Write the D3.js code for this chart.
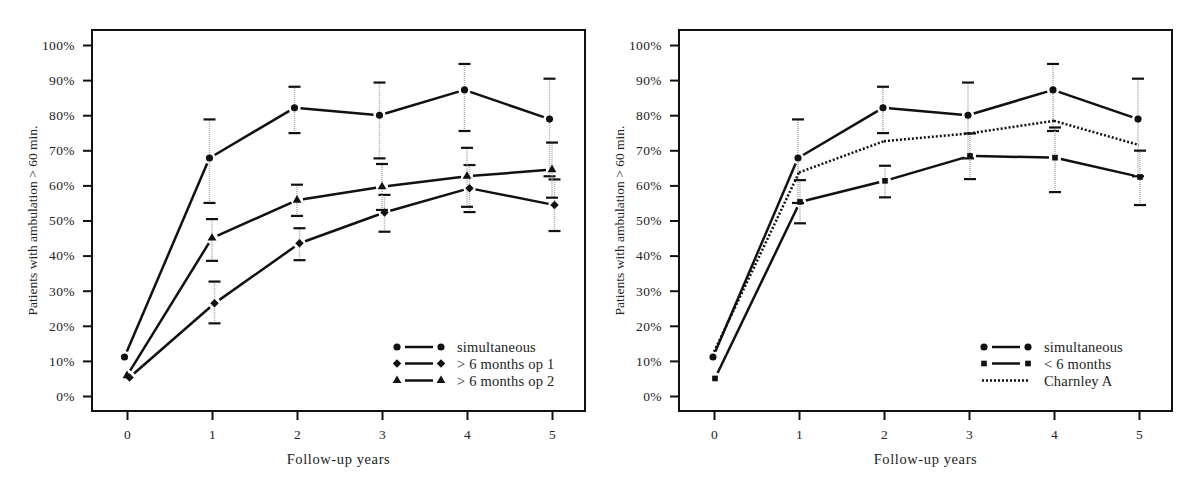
<!DOCTYPE html>
<html>
<head>
<meta charset="utf-8">
<script src="https://cdn.jsdelivr.net/npm/d3@7"></script>
<style>
    body { margin: 0; background: #fff; }
    svg { display: block; }
    text { font-family: "Liberation Serif", "Times New Roman", serif; fill: #222; }
</style>
</head>
<body>
<script>
// Data (percent of patients, by follow-up year)
var years = [0, 1, 2, 3, 4, 5];

var simultaneous   = [11.1, 67.8, 82.1, 80.0, 87.2, 78.9];
var simultaneousLo = [null, 55.0, 74.9, 67.7, 75.5, 62.6];
var simultaneousHi = [null, 78.8, 88.1, 89.3, 94.6, 90.4];

var op1   = [5.3, 26.4, 43.5, 52.3, 59.2, 54.4];
var op1Lo = [null, 20.7, 38.7, 46.8, 52.4, 47.0];
var op1Hi = [null, 32.6, 47.8, 57.3, 65.8, 61.7];

var op2   = [5.8, 45.0, 55.8, 59.6, 62.6, 64.5];
var op2Lo = [null, 38.5, 51.3, 53.0, 53.9, 56.5];
var op2Hi = [null, 50.4, 60.2, 66.1, 70.7, 72.2];

var lessThan6   = [5.0, 55.3, 61.3, 68.4, 67.9, 62.4];
var lessThan6Lo = [null, 49.2, 56.6, 61.8, 58.1, 54.4];
var lessThan6Hi = [null, 61.5, 65.6, 74.8, 76.5, 69.9];

var charnleyA = [12.6, 63.7, 72.6, 74.8, 78.4, 71.5];

var yTicks = [0, 10, 20, 30, 40, 50, 60, 70, 80, 90, 100];

var width = 1200, height = 492;

var svg = d3.select("body").append("svg")
    .attr("width", width)
    .attr("height", height);

// frame size shared by both panels
var frameW = 493, frameH = 381;

var x = d3.scaleLinear().domain([0, 5]).range([35, 460]);
var y = d3.scaleLinear().domain([0, 100]).range([366, 15]);

// small rotated square, like the reference's diamonds
var diamond = {
    draw: function(context, size) {
        var r = Math.sqrt(size / 2);
        context.moveTo(0, -r);
        context.lineTo(r, 0);
        context.lineTo(0, r);
        context.lineTo(-r, 0);
        context.closePath();
    }
};

function makeSeries(vals, lo, hi) {
    return years.map(function(yr, i) {
        return { year: yr, value: vals[i], lo: lo ? lo[i] : null, hi: hi ? hi[i] : null };
    });
}

function drawPanel(left, series, legendX) {
    var g = svg.append("g").attr("transform", "translate(" + left + ",30)");

    // axes
    var yAxis = d3.axisLeft(y).tickValues(yTicks).tickSize(9).tickPadding(8)
        .tickFormat(function(d) { return d + "%"; });
    var xAxis = d3.axisBottom(x).tickValues(years).tickSize(9).tickPadding(9)
        .tickFormat(d3.format("d"));

    var ya = g.append("g").call(yAxis);
    var xa = g.append("g").attr("transform", "translate(0," + frameH + ")").call(xAxis);
    [ya, xa].forEach(function(a) {
        a.select(".domain").remove();
        a.selectAll(".tick line").attr("stroke", "#111").attr("stroke-width", 2);
        a.selectAll(".tick text")
            .style("font-size", "13.5px")
            .style("font-family", "Liberation Serif")
            .style("letter-spacing", "0.4px")
            .attr("fill", "#333");
    });

    g.append("rect")
        .attr("width", frameW).attr("height", frameH)
        .attr("fill", "none").attr("stroke", "#111").attr("stroke-width", 2);

    g.append("text")
        .attr("x", frameW / 2).attr("y", frameH + 53)
        .attr("text-anchor", "middle")
        .style("font-size", "14.5px")
        .style("letter-spacing", "0.6px")
        .text("Follow-up years");

    g.append("text")
        .attr("transform", "translate(-60," + y(50) + ") rotate(-90)")
        .attr("text-anchor", "middle")
        .attr("dy", "0.35em")
        .style("font-size", "13.5px")
        .text("Patients with ambulation > 60 min.");

    // error bars first, so markers sit on top
    series.forEach(function(s) {
        var pts = s.data.filter(function(d) { return d.lo != null; });
        var eb = g.append("g");
        eb.selectAll("line.v").data(pts).enter().append("line")
            .attr("x1", function(d) { return x(d.year) + s.dx; })
            .attr("x2", function(d) { return x(d.year) + s.dx; })
            .attr("y1", function(d) { return y(d.lo); })
            .attr("y2", function(d) { return y(d.hi); })
            .attr("stroke", "#aaa").attr("stroke-width", 1.5)
            .attr("stroke-dasharray", "1,1");
        ["lo", "hi"].forEach(function(k) {
            eb.selectAll("line." + k).data(pts).enter().append("line")
                .attr("x1", function(d) { return x(d.year) + s.dx - 6; })
                .attr("x2", function(d) { return x(d.year) + s.dx + 6; })
                .attr("y1", function(d) { return y(d[k]); })
                .attr("y2", function(d) { return y(d[k]); })
                .attr("stroke", "#111").attr("stroke-width", 2.2);
        });
    });

    // connecting lines; solid ones leave a small gap at each marker
    series.forEach(function(s) {
        var segs = d3.pairs(s.data);
        var gap = s.symbol ? 6 : 0;
        g.append("g").selectAll("line").data(segs).enter().append("line")
            .each(function(p) {
                var x1 = x(p[0].year) + s.dx, y1 = y(p[0].value);
                var x2 = x(p[1].year) + s.dx, y2 = y(p[1].value);
                var len = Math.hypot(x2 - x1, y2 - y1);
                var ux = (x2 - x1) / len, uy = (y2 - y1) / len;
                d3.select(this)
                    .attr("x1", x1 + ux * gap).attr("y1", y1 + uy * gap)
                    .attr("x2", x2 - ux * gap).attr("y2", y2 - uy * gap);
            })
            .attr("stroke", "#111")
            .attr("stroke-width", 2.5)
            .attr("stroke-dasharray", s.dash || null);
    });

    // markers
    series.forEach(function(s) {
        if (!s.symbol) return;
        g.append("g").selectAll("path").data(s.data).enter().append("path")
            .attr("d", d3.symbol().type(s.symbol).size(s.size))
            .attr("transform", function(d) {
                return "translate(" + (x(d.year) + s.dx) + "," + y(d.value) + ")";
            })
            .attr("fill", "#111");
    });

    // legend
    var rowY = [317, 333.5, 350.5];
    series.forEach(function(s, i) {
        var lg = g.append("g").attr("transform", "translate(" + legendX + "," + rowY[i] + ")");
        if (s.symbol) {
            lg.append("path").attr("d", d3.symbol().type(s.symbol).size(s.size)).attr("fill", "#111");
            lg.append("path").attr("d", d3.symbol().type(s.symbol).size(s.size))
                .attr("transform", "translate(44,0)").attr("fill", "#111");
            lg.append("line").attr("x1", 8).attr("x2", 36)
                .attr("stroke", "#111").attr("stroke-width", 2.5);
        } else {
            lg.append("line").attr("x1", -2).attr("x2", 46)
                .attr("stroke", "#111").attr("stroke-width", 2.5)
                .attr("stroke-dasharray", s.dash);
        }
        lg.append("text").attr("x", 60).attr("dy", "0.35em")
            .style("font-size", "14.5px")
            .style("letter-spacing", "0.2px")
            .text(s.name);
    });
}

// left panel
drawPanel(92, [
    { name: "simultaneous", data: makeSeries(simultaneous, simultaneousLo, simultaneousHi), symbol: d3.symbolCircle, size: 40, dx: -2.5 },
    { name: "> 6 months op 1", data: makeSeries(op1, op1Lo, op1Hi), symbol: diamond, size: 36, dx: 2.5 },
    { name: "> 6 months op 2", data: makeSeries(op2, op2Lo, op2Hi), symbol: d3.symbolTriangle, size: 34, dx: 0 }
], 305);

// right panel
drawPanel(679, [
    { name: "simultaneous", data: makeSeries(simultaneous, simultaneousLo, simultaneousHi), symbol: d3.symbolCircle, size: 40, dx: -1 },
    { name: "< 6 months", data: makeSeries(lessThan6, lessThan6Lo, lessThan6Hi), symbol: d3.symbolSquare, size: 32, dx: 1 },
    { name: "Charnley A", data: makeSeries(charnleyA), symbol: null, dash: "2,2", dx: 0 }
], 305);
</script>
</body>
</html>
